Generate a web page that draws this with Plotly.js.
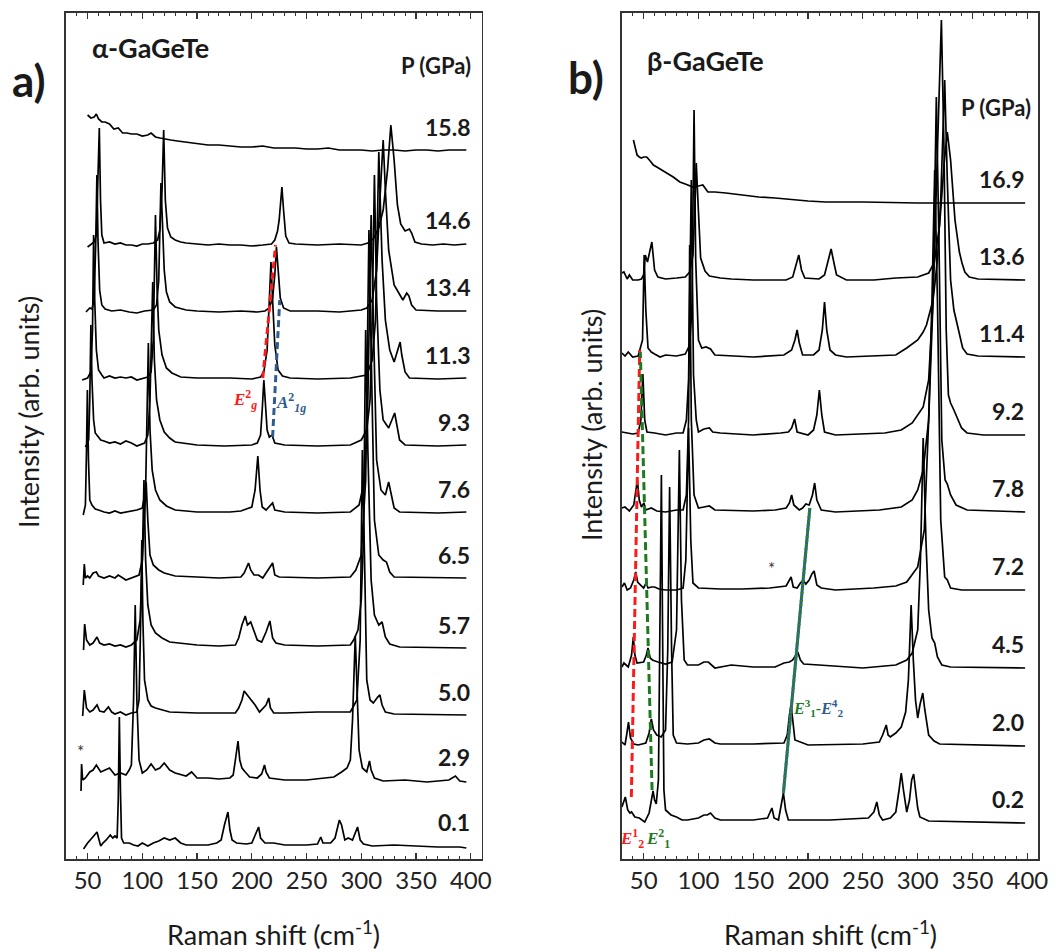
<!DOCTYPE html>
<html><head><meta charset="utf-8">
<script src="https://cdn.plot.ly/plotly-3.0.1.min.js"></script>
<style>html,body{margin:0;padding:0;background:#fff}#chart{width:1062px;height:952px}</style>
</head><body><div id="chart"></div>
<script>
// ---------- Panel a: alpha-GaGeTe, pressures (GPa) top to bottom ----------
const aPressures = ['15.8','14.6','13.4','11.3','9.3','7.6','6.5','5.7','5.0','2.9','0.1'];
const aOffsets   = [709, 616, 549, 481, 414, 347, 281, 211, 144, 79, 14];
// spectra as [Raman shift (cm-1), intensity above own baseline (arb.)]
const a158 = [[50,35],[53,32],[56,33],[58,36],[60,31],[63,28],[66,28],[70,26],[74,21],[78,22],[82,17],[86,17],[90,16],[95,16],[100,14],[105,15],[108,17],[112,13],[116,12],[120,11],[126,10],[132,9],[138,8],[145,7],[152,6],[160,5],[170,5],[180,4],[190,3],[200,3],[210,4],[220,2],[230,2],[240,2],[250,1],[260,1],[270,2],[280,0],[290,0],[300,0],[310,-1],[320,0],[330,0],[340,-1],[350,0],[360,0],[370,-1],[380,0],[390,0],[396,0]];
const a146 = [[50,-4],[53,-1],[56,1],[58,8],[59.5,63],[60.7,115],[61.8,43],[63,8],[65,0],[70,1],[75,-1],[80,0],[85,-2],[90,-2],[95,-3],[100,-1],[105,-1],[110,0],[114,3],[116,13],[118,53],[119.5,113],[121,43],[123,15],[126,6],[130,3],[135,1],[140,0],[150,-1],[160,-2],[170,-1],[180,-2],[190,-2],[200,-3],[210,-2],[218,-1],[221,3],[223.5,12],[225,23],[227.5,56],[229,33],[231,7],[234,0],[240,-1],[260,-2],[280,-1],[300,-2],[306,0],[311,4],[316,15],[320,33],[324,73],[327,118],[330,83],[333,38],[336,19],[340,12],[344,14],[346,10],[349,1],[355,-1],[365,-2],[375,-1],[385,-2],[396,-1]];
const a134 = [[48.5,-2],[52,2],[54,1],[56,10],[57.5,70],[58.5,135],[59.5,70],[61,20],[63,5],[66,1],[72,-1],[80,0],[88,-2],[95,-3],[102,-1],[110,0],[113,5],[115,30],[117,127],[118.5,80],[120,40],[122,18],[125,8],[130,3],[140,0],[150,-1],[170,-2],[190,-1],[205,-2],[212,-1],[216,2],[219,12],[221,35],[222.5,63],[224,42],[226,12],[229,2],[235,-1],[260,-1],[280,-2],[300,0],[305,2],[310,10],[314,40],[317,110],[320,170],[322,120],[325,60],[330,25],[335,15],[338,10],[341.5,17],[343.5,14],[346,5],[350,0],[370,-1],[396,-1]];
const a113 = [[45,-2],[50,0],[53,6],[54.5,48],[55.5,143],[56.5,78],[58,28],[60,8],[63,3],[65,0],[70,2],[75,0],[80,1],[85,0],[90,1],[95,-2],[105,1],[108,6],[110,38],[112,163],[113.5,88],[115,48],[118,23],[122,10],[127,5],[135,1],[150,0],[180,0],[200,-1],[208,1],[211,6],[214,28],[216,78],[217.5,116],[219,78],[221,33],[224,8],[228,2],[235,0],[260,-1],[290,0],[305,3],[310,18],[313,58],[316,226],[319,118],[322,58],[326,28],[330,16],[333,28],[335.5,36],[337,23],[340,6],[344,0],[370,-1],[396,0]];
const a93 = [[48,-2],[51,5],[52,45],[53,120],[54,65],[55.5,25],[57,12],[60,8],[62,5],[65,4],[70,2],[75,3],[80,1],[85,4],[90,2],[95,-1],[102,2],[105,10],[107,45],[109.5,163],[111,85],[113,45],[116,25],[120,13],[125,7],[130,3],[150,0],[175,-1],[200,0],[205,2],[208,10],[209.5,35],[211,65],[212.5,40],[214,15],[216,8],[218.5,10],[221,2],[230,0],[260,-1],[290,0],[300,5],[305,15],[308,45],[310,125],[312,270],[314,145],[317,55],[320,25],[325,17],[328,25],[330.5,32],[332.5,20],[335,5],[340,0],[370,-1],[396,0]];
const a76 = [[46,-3],[48,7],[49,62],[49.8,122],[50.8,52],[52,12],[54,7],[57,3],[60,2],[65,0],[70,-1],[75,1],[80,-1],[85,0],[90,1],[95,2],[100,4],[103,22],[105.5,169],[107,82],[109,42],[112,22],[116,12],[122,6],[130,2],[150,0],[180,0],[190,1],[195,3],[200,5],[203,22],[205.5,56],[207.5,22],[209.5,5],[213,2],[217,6],[219,9],[221,2],[230,0],[260,-1],[290,0],[298,7],[303,32],[306,112],[309,297],[311,192],[314,52],[318,22],[322,17],[325,30],[327,19],[330,4],[335,0],[370,-1],[396,0]];
const a65 = [[46,-7],[47,14],[48,0],[50,2],[52,0],[55,5],[58,6],[60,2],[65,0],[70,2],[75,0],[78,3],[85,-2],[90,0],[97,3],[100,18],[102,58],[103.5,96],[105,58],[107,23],[110,13],[115,8],[120,5],[130,2],[150,1],[170,0],[190,1],[193,5],[197,15],[199,8],[202,3],[206,3],[210,0],[215,8],[219,15],[221,3],[225,1],[260,0],[290,1],[295,8],[300,23],[304,98],[307,348],[309,228],[312,58],[316,23],[320,18],[323,16],[326,6],[330,1],[370,0],[396,0]];
const a57 = [[46.3,-2],[47.3,24],[49,8],[52,3],[55,5],[58.6,11],[61,5],[65,3],[70,4],[75,2],[80,3],[85,1],[90,3],[95,8],[98,28],[100,88],[101.5,168],[103,88],[105,43],[108,23],[112,15],[118,10],[125,6],[135,5],[150,3],[170,2],[185,3],[188,10],[191,23],[194,32],[196,23],[199,26],[202,16],[205,8],[209,6],[213,16],[216.5,27],[219,10],[222,5],[230,3],[260,2],[290,3],[293,8],[297,18],[300,48],[302,108],[304,318],[306,198],[309,68],[312,33],[316,23],[319,26],[322,11],[326,4],[335,1],[370,0],[396,0]];
const a50 = [[45.5,-1],[47,25],[49,7],[52,3],[55,5],[58.6,10],[61,4],[65,3],[69,8],[72,3],[75,1],[80,3],[85,0],[90,2],[95,3],[97,15],[98.5,95],[99.5,175],[100.5,95],[102,35],[105,15],[108,9],[112,7],[118,5],[125,3],[150,2],[185,2],[188,7],[191,15],[193,24],[196,20],[199,15],[203,10],[207,3],[210,7],[213,10],[215.5,17],[217,7],[220,2],[230,2],[260,3],[290,3],[293,9],[296,15],[299,75],[301,265],[303,155],[305,35],[308,15],[311,12],[315,18],[317,20],[319,10],[322,3],[330,1],[396,0]];
const a29 = [[44,-11],[44.5,16],[45.5,0],[48,2],[52,8],[55,10],[58,15],[62,8],[66,10],[70,12],[75,5],[80,7],[85,5],[88,10],[90,15],[92,80],[93.5,175],[95,80],[97,20],[100,7],[104,10],[108,16],[112,10],[116,12],[120,17],[125,10],[130,7],[140,4],[145,8],[150,2],[160,2],[170,1],[180,2],[183,5],[185,20],[187.4,39],[189,20],[191,12],[194,8],[198,3],[205,2],[209,6],[211.6,15],[213,8],[216,2],[230,0],[250,0],[265,2],[275,3],[282,8],[287,12],[290,20],[292,60],[294.5,144],[296,100],[298,30],[301,12],[305,8],[307.5,19],[309,10],[312,2],[320,-1],[340,0],[360,-2],[380,0],[386,4],[390,-1],[396,-2]];
const a01 = [[46.3,-4],[50,2],[54,7],[57,11],[58.6,13],[60,7],[62,-1],[64,2],[67,5],[70.7,10],[73,7],[75,9],[77,7],[78,45],[79,128],[80,55],[81,7],[83,2],[88,2],[92,0],[96,-1],[100,2],[105,-1],[110,2],[115,4],[120,7],[125,5],[130,7],[135,2],[140,0],[150,0],[160,0],[168,2],[172,5],[175,20],[178.2,33],[180,15],[182,5],[186,2],[195,1],[200,2],[203,10],[206.2,18],[208,7],[212,2],[220,2],[230,0],[240,0],[250,0],[260,1],[263,8],[265,2],[272,2],[276,7],[280,25],[282,20],[285,5],[288,7],[292,5],[296.6,18],[299,5],[302,1],[310,-1],[330,0],[350,-1],[370,-2],[390,-2],[396,-3]];
const aSpectra = [a158,a146,a134,a113,a93,a76,a65,a57,a50,a29,a01];

// ---------- Panel b: beta-GaGeTe ----------
const bPressures = ['16.9','13.6','11.4','9.2','7.8','7.2','4.5','2.0','0.2'];
const bOffsets   = [656, 579, 502, 424, 347, 269, 191, 113, 36];
const b169 = [[40.7,63],[42,58],[44,48],[46,46],[48,45],[50,46],[52.8,46],[56,42],[58.9,38],[62,36],[66,33],[71,30],[77,26],[83,21],[88,19],[95,16],[100,17],[104,18],[108.6,11],[115,11],[125,10],[140,8],[155,6],[170,5],[186,3],[200,2],[216,1],[250,1],[300,0],[350,0],[398,0]];
const b136 = [[30.2,7],[32,8],[35,1],[37,5],[40,0],[45,0],[48,1],[50,5],[51.5,25],[53.5,18],[57.5,38],[60,10],[63,3],[70,1],[80,2],[88,3],[92,8],[95,25],[97,80],[98,117],[99.5,80],[102,22],[106,9],[110,4],[120,2],[130,1],[150,0],[180,0],[186,3],[189,15],[191.5,25],[194,10],[197,2],[210,1],[215,5],[218,18],[221,31],[224,15],[226,5],[235,0],[260,0],[280,2],[300,3],[310,7],[315,17],[320,55],[324,115],[327,148],[330,120],[334,60],[338,28],[340.4,17],[343,8],[347,3],[355,1],[398,0]];
const b114 = [[30.2,4],[33,1],[36,5],[40,0],[45,1],[49,17],[50.5,102],[52,47],[54,9],[57,5],[60,3],[65,0],[70,2],[80,1],[88,3],[92,12],[94,47],[96,247],[97.5,97],[100,17],[103,9],[107,10],[111,8],[115,2],[150,0],[178,2],[185,7],[188,17],[190,27],[192,14],[195,2],[205,2],[210,7],[213,27],[215,55],[217,27],[220,7],[225,2],[235,0],[280,2],[290,9],[300,17],[305,25],[308,32],[314,57],[318,97],[321,157],[324.6,277],[327,177],[330,77],[333,47],[335,37],[338,22],[341,9],[345,3],[355,1],[398,0]];
const b92 = [[30.2,3],[35,2],[40,1],[45,2],[47.5,15],[49.3,61],[51,15],[53,3],[57,2],[60,2],[70,0],[80,2],[86,2],[89,15],[91,55],[93.5,255],[95.5,60],[98,15],[100,3],[105,6],[110,7],[113,3],[120,2],[150,0],[175,2],[182,3],[185,7],[187.7,16],[190,3],[200,0],[205,5],[208,20],[210.3,45],[212.5,20],[215,3],[225,0],[270,2],[285,5],[295,12],[305,28],[310,55],[314,135],[318,285],[321.6,415],[324,285],[326,105],[328,40],[330,32],[333,25],[337,15],[340,7],[345,2],[360,0],[398,0]];
const b78 = [[30.2,4],[33,5],[37,1],[41,7],[44.3,32],[46,12],[48,5],[50.3,9],[52,2],[57,4],[62,1],[70,0],[80,2],[86,2],[89,17],[91,92],[92,267],[93.5,92],[96,17],[100,4],[105,5],[110,6],[115,2],[150,1],[170,2],[180,4],[183,9],[185,17],[187,7],[192,2],[195,4],[198,8],[201,7],[204,17],[206,29],[208,12],[212,2],[225,0],[265,2],[285,5],[295,12],[300,22],[305,42],[310,92],[314,212],[317,415],[319.5,262],[322,72],[325,32],[327,28],[330,17],[335,7],[345,2],[398,0]];
const b72 = [[30.2,3],[32.5,7],[35,0],[38,2],[41,10],[42.8,18],[44.5,8],[47,5],[50,2],[52.3,7],[54,2],[57,3],[60,3],[64,1],[70,0],[80,0],[86,2],[88.5,30],[91,162],[93,50],[95,7],[100,2],[120,1],[140,1],[165,2],[180,4],[182.5,10],[184.5,13],[186.5,3],[190,2],[193,7],[195.5,10],[198,6],[201,10],[203.5,16],[205.5,19],[208,5],[212,2],[225,0],[260,2],[280,4],[290,8],[300,23],[306,60],[310,170],[313,290],[315.5,420],[318,290],[321,70],[324.6,13],[327,10],[330,2],[340,0],[398,0]];
const b45 = [[30.2,1],[32,5],[34,3],[36,1],[39,13],[40.6,31],[42,13],[44,5],[50,6],[52.5,13],[54,20],[56,10],[58,8],[63,6],[70,4],[76,6],[80,38],[82.6,218],[84.5,68],[87,8],[90,3],[100,3],[105,6],[109,6],[115,0],[130,3],[150,1],[170,1],[178,5],[183,6],[186,8],[188.5,13],[190.6,16],[193,8],[196,4],[210,3],[250,0],[280,3],[290,8],[295,15],[300,38],[302.5,108],[305,230],[307.5,128],[310,58],[313,30],[315.5,25],[318,11],[322,3],[330,1],[398,0]];
const b20 = [[30.2,4],[33,1],[34.5,11],[36.2,24],[38,8],[41,2],[45,1],[52,3],[55,13],[57,27],[59,16],[62,11],[66,9],[70,16],[72,96],[73.7,259],[75.5,96],[77,11],[80,3],[90,2],[100,3],[105,6],[110,7],[115,3],[120,2],[150,2],[178,3],[181,11],[183,31],[184.5,41],[186,26],[188,6],[200,1],[250,2],[265,4],[268,11],[271.3,21],[273,11],[275,9],[280,13],[285,19],[289,34],[291.5,66],[294,141],[296,86],[298,46],[300,28],[302,41],[304.6,53],[306.5,36],[310,11],[315,5],[320,2],[398,0]];
const b02 = [[30.2,16],[33.3,26],[35.5,13],[37.5,10],[39,11],[42,6],[46,5],[51,1],[55,10],[57,23],[58.6,32],[60,23],[61.5,19],[63.5,43],[65,203],[66.2,348],[67.2,203],[68.5,33],[70,13],[72,11],[75,8],[80,6],[85,3],[90,3],[100,5],[105,8],[108,8],[111,10],[115,5],[120,3],[150,3],[163,5],[165,11],[167,15],[169,5],[173,3],[175.5,18],[177.5,30],[179.5,13],[182,3],[220,3],[255,5],[260,11],[262.7,21],[265,8],[268,3],[275,5],[280,11],[283,33],[285,50],[287,33],[290,11],[292.5,23],[294.5,43],[296.3,49],[298,33],[300,15],[302,6],[310,2],[398,0]];
const bSpectra = [b169,b136,b114,b92,b78,b72,b45,b20,b02];

// mode-tracking guide lines [shift, stacked intensity]
const aGuideEg  = [[210,481],[221.7,614]];
const aGuideA1g = [[219,422],[225.5,559]];
const bGuideE21 = [[38.8,62],[46.4,509]];
const bGuideE12 = [[57.7,69],[47,507]];
const bGuideE13 = [[177.5,66],[201.6,351]];

const traces = [];
function addSpectra(spectra, offsets, xa, ya){
  spectra.forEach((s,i)=>{
    traces.push({type:'scatter', mode:'lines', xaxis:xa, yaxis:ya,
      x: s.map(p=>p[0]), y: s.map(p=>p[1]+offsets[i]),
      line:{color:'#000', width:1.7}, hoverinfo:'skip'});
  });
}
addSpectra(aSpectra, aOffsets, 'x', 'y');
addSpectra(bSpectra, bOffsets, 'x2', 'y2');
function guide(g, xa, ya, color, dash, width){
  traces.push({type:'scatter', mode:'lines', xaxis:xa, yaxis:ya,
    x:g.map(p=>p[0]), y:g.map(p=>p[1]), line:{color, width, dash}, hoverinfo:'skip'});
}
guide(aGuideEg, 'x','y', '#ff1a1a', '7px,4px', 3);
guide(aGuideA1g, 'x','y', '#2e5c8c', '7px,4px', 3);
guide(bGuideE21, 'x2','y2', '#ff1a1a', '8px,4px', 3);
guide(bGuideE12, 'x2','y2', '#1f7a1f', '8px,4px', 3);
guide(bGuideE13, 'x2','y2', '#2e5c8c', 'solid', 3);
guide(bGuideE13, 'x2','y2', '#2a8a2a', '2px,2px', 3);

const H = 846.3;
function xax(domain, anchor){
  return {domain, anchor, range:[30,410], showline:true, linecolor:'#333', linewidth:1.5,
    mirror:'ticks', ticks:'inside', ticklen:6, tickwidth:1.2, tickcolor:'#333',
    tickmode:'linear', tick0:0, dtick:50,
    minor:{dtick:10, ticks:'inside', ticklen:3.5, tickwidth:1, tickcolor:'#333'},
    tickfont:{family:'Lato, sans-serif', size:24, color:'#222'},
    showgrid:false, zeroline:false, fixedrange:true};
}
function yax(domain, anchor){
  return {domain, anchor, range:[0,H], showline:true, linecolor:'#333', linewidth:1.5,
    mirror:true, ticks:'', showticklabels:false, showgrid:false, zeroline:false, fixedrange:true};
}
const ann = [];
const px = x=>x/1062, py = y=>1-y/952;
function txt(text, x, y, size, opts){
  ann.push(Object.assign({text, x:px(x), y:py(y), xref:'paper', yref:'paper', showarrow:false,
    font:{family:'Lato, sans-serif', size, color:'#1a1a1a'}, xanchor:'center', yanchor:'middle'}, opts||{}));
}
txt('<b>a)</b>', 29, 80, 44);
txt('<b>b)</b>', 586, 77, 44);
txt('<b>α-GaGeTe</b>', 150, 47, 27);
txt('<b>β-GaGeTe</b>', 705, 60, 27);
txt('<b>P (GPa)</b>', 473, 66, 22, {xanchor:'right'});
txt('<b>P (GPa)</b>', 1033, 107, 22, {xanchor:'right'});
txt('Raman shift (cm<sup>-1</sup>)', 273.7, 933, 27);
txt('Raman shift (cm<sup>-1</sup>)', 830, 933, 27);
txt('Intensity (arb. units)', 28, 412, 27, {textangle:-90});
txt('Intensity (arb. units)', 592, 425, 27, {textangle:-90});
aPressures.forEach((p,i)=>ann.push({text:'<b>'+p+'</b>', xref:'x domain', yref:'y', x:0.977, y:aOffsets[i]+23,
  xanchor:'right', yanchor:'middle', showarrow:false, font:{family:'Lato, sans-serif', size:23, color:'#1a1a1a'}}));
bPressures.forEach((p,i)=>ann.push({text:'<b>'+p+'</b>', xref:'x2 domain', yref:'y2', x:0.9705, y:bOffsets[i]+24,
  xanchor:'right', yanchor:'middle', showarrow:false, font:{family:'Lato, sans-serif', size:23, color:'#1a1a1a'}}));
function mode(text, xa, ya, x, y, color){
  ann.push({text, xref:xa, yref:ya, x, y, showarrow:false, xanchor:'center', yanchor:'middle',
    font:{family:'Liberation Serif, serif', size:17, color}});
}
mode('<b><i>E</i></b><sup><b>2</b></sup><sub><b><i>g</i></b></sub>', 'x','y', 194, 859-400, '#ff1a1a');
mode('<b><i>A</i></b><sup><b>2</b></sup><sub><b><i>1g</i></b></sub>', 'x','y', 236, 859-403, '#2e5c8c');
mode('<b><i>E</i></b><sup><b>1</b></sup><sub><b>2</b></sub>', 'x2','y2', 39.5, 859-839, '#ff1a1a');
mode('<b><i>E</i></b><sup><b>2</b></sup><sub><b>1</b></sub>', 'x2','y2', 63.5, 859-839, '#1f7a1f');
ann.push({text:'<span style="color:#1f7a1f"><b><i>E</i></b><sup><b>3</b></sup><sub><b>1</b></sub></span>-<span style="color:#2e5c8c"><b><i>E</i></b><sup><b>4</b></sup><sub><b>2</b></sub></span>',
  xref:'x2', yref:'y2', x:209, y:859-708, showarrow:false, font:{family:'Liberation Serif, serif', size:16, color:'#1f7a1f'}});
ann.push({text:'*', xref:'x', yref:'y', x:43.3, y:859-752, showarrow:false, font:{family:'Lato, sans-serif', size:17, color:'#333'}});
ann.push({text:'*', xref:'x2', yref:'y2', x:167, y:859-569, showarrow:false, font:{family:'Lato, sans-serif', size:17, color:'#333'}});

const yd = [1-859/952, 1-12.7/952];
const layout = {width:1062, height:952, margin:{l:0,r:0,t:0,b:0}, paper_bgcolor:'#fff', plot_bgcolor:'#fff',
  showlegend:false,
  xaxis: xax([65.7/1062, 481.7/1062], 'y'), yaxis: yax(yd, 'x'),
  xaxis2: xax([621.7/1062, 1038.3/1062], 'y2'), yaxis2: yax(yd, 'x2'),
  annotations: ann};
Plotly.newPlot('chart', traces, layout, {staticPlot:true, displayModeBar:false});
</script></body></html>
